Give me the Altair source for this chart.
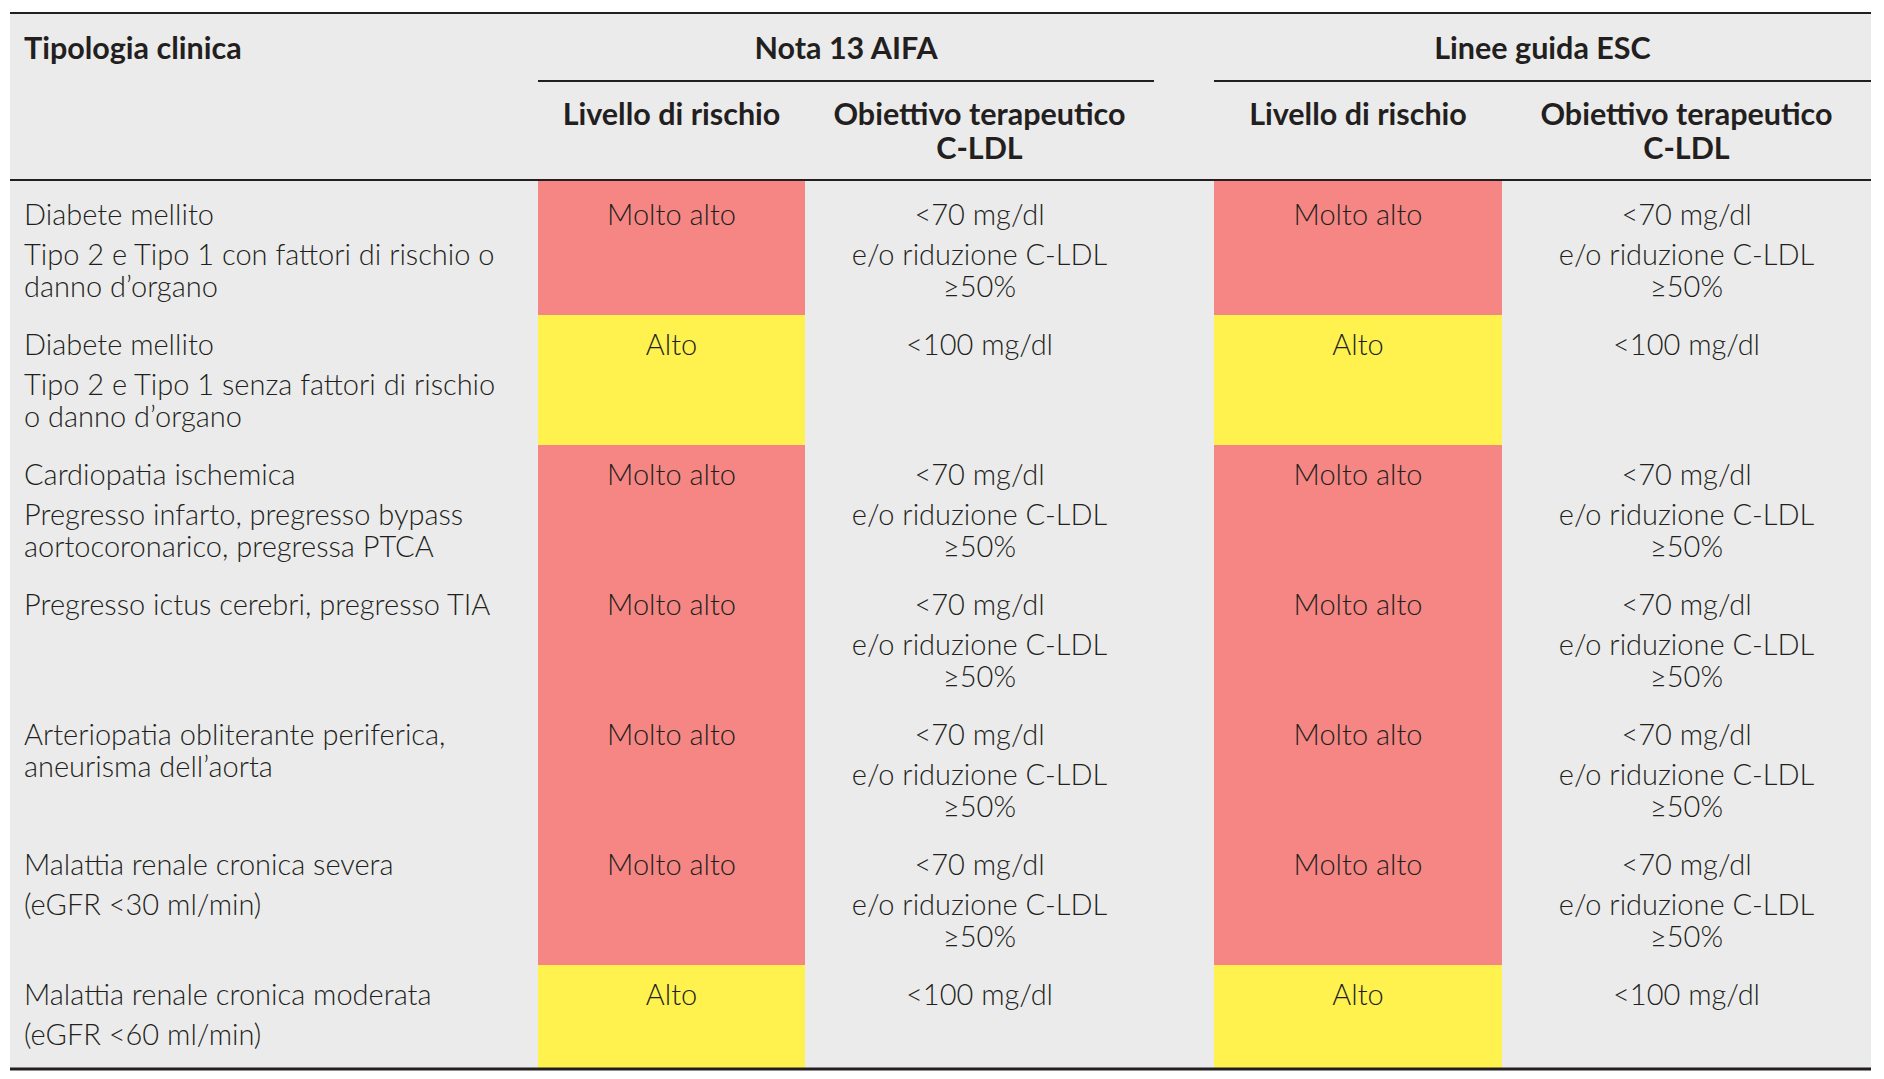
import altair as alt
import pandas as pd

# ---------------- content ----------------
HEAD_TOP = ["Tipologia clinica", "Nota 13 AIFA", "Linee guida ESC"]
HEAD_SUB = [["Livello di rischio"], ["Obiettivo terapeutico", "C-LDL"]]

TIPOLOGIA = [
    [["Diabete mellito"], ["Tipo 2 e Tipo 1 con fattori di rischio o", "danno d’organo"]],
    [["Diabete mellito"], ["Tipo 2 e Tipo 1 senza fattori di rischio", "o danno d’organo"]],
    [["Cardiopatia ischemica"], ["Pregresso infarto, pregresso bypass", "aortocoronarico, pregressa PTCA"]],
    [["Pregresso ictus cerebri, pregresso TIA"]],
    [["Arteriopatia obliterante periferica,", "aneurisma dell’aorta"]],
    [["Malattia renale cronica severa"], ["(eGFR <30 ml/min)"]],
    [["Malattia renale cronica moderata"], ["(eGFR <60 ml/min)"]],
]
RISCHIO_AIFA = ["Molto alto", "Alto", "Molto alto", "Molto alto", "Molto alto", "Molto alto", "Alto"]
RISCHIO_ESC = ["Molto alto", "Alto", "Molto alto", "Molto alto", "Molto alto", "Molto alto", "Alto"]
OBIETTIVO_AIFA = [
    [["<70 mg/dl"], ["e/o riduzione C-LDL", "≥50%"]],
    [["<100 mg/dl"]],
    [["<70 mg/dl"], ["e/o riduzione C-LDL", "≥50%"]],
    [["<70 mg/dl"], ["e/o riduzione C-LDL", "≥50%"]],
    [["<70 mg/dl"], ["e/o riduzione C-LDL", "≥50%"]],
    [["<70 mg/dl"], ["e/o riduzione C-LDL", "≥50%"]],
    [["<100 mg/dl"]],
]
OBIETTIVO_ESC = [
    [["<70 mg/dl"], ["e/o riduzione C-LDL", "≥50%"]],
    [["<100 mg/dl"]],
    [["<70 mg/dl"], ["e/o riduzione C-LDL", "≥50%"]],
    [["<70 mg/dl"], ["e/o riduzione C-LDL", "≥50%"]],
    [["<70 mg/dl"], ["e/o riduzione C-LDL", "≥50%"]],
    [["<70 mg/dl"], ["e/o riduzione C-LDL", "≥50%"]],
    [["<100 mg/dl"]],
]

RISK_COLORS = {"Molto alto": "#f58683", "Alto": "#fff24f"}
BG = "#ebebeb"
INK = "#231f20"
FONT = "Lato"
FS_BODY = 29
FS_HEAD = 30.5

# ---------------- layout (page geometry) ----------------
W, H = 1868, 1063
X0, X1 = 10, 1871
COLS = [(10, 538), (538, 805), (805, 1154), (1214, 1502), (1502, 1871)]
GROUPS = [(538, 1154), (1214, 1871)]
Y_TOP, Y_GROUP_RULE, Y_HEAD = 13, 81, 180
PAD_FIRST = 5
FIRST_OFF, PARA_GAP, WRAP_GAP = 40, 40, 31.5
HEAD_SUB_Y, HEAD_SUB_GAP = 125, 33.5


def n_lines(cell):
    return sum(len(p) for p in cell)


def cell_lines(cell, top):
    out = []
    y = top + FIRST_OFF
    first = True
    for para in cell:
        for i, line in enumerate(para):
            if not first:
                y += PARA_GAP if i == 0 else WRAP_GAP
            first = False
            out.append((line, y))
    return out


texts = []
cells = []

# header texts
texts.append(dict(x=24, y=59, t=HEAD_TOP[0], kind="head_left"))
for (gx0, gx1), label in zip(GROUPS, HEAD_TOP[1:]):
    texts.append(dict(x=(gx0 + gx1) / 2, y=59, t=label, kind="head_center"))
for ci in range(1, 5):
    cx = (COLS[ci][0] + COLS[ci][1]) / 2
    for li, line in enumerate(HEAD_SUB[(ci - 1) % 2]):
        texts.append(dict(x=cx, y=HEAD_SUB_Y + li * HEAD_SUB_GAP, t=line, kind="head_center"))

# body rows
top = Y_HEAD
for r in range(len(TIPOLOGIA)):
    row_cells = [TIPOLOGIA[r], [[RISCHIO_AIFA[r]]], OBIETTIVO_AIFA[r], [[RISCHIO_ESC[r]]], OBIETTIVO_ESC[r]]
    nmax = max(n_lines(c) for c in row_cells)
    content_top = top + (PAD_FIRST if r == 0 else 0)
    height = 52 + 26 * nmax
    bottom = content_top + height
    for ci, cell in enumerate(row_cells):
        x0c, x1c = COLS[ci]
        if ci == 0:
            for line, y in cell_lines(cell, content_top):
                texts.append(dict(x=24, y=y, t=line, kind="body_left"))
        else:
            cx = (x0c + x1c) / 2
            for line, y in cell_lines(cell, content_top):
                texts.append(dict(x=cx, y=y, t=line, kind="body_center"))
        if ci in (1, 3):
            risk = RISCHIO_AIFA[r] if ci == 1 else RISCHIO_ESC[r]
            cells.append(dict(x=x0c, x2=x1c, y=top, y2=bottom, c=RISK_COLORS[risk]))
    top = bottom
Y_BOTTOM = top

tdf = pd.DataFrame(texts)
cdf = pd.DataFrame(cells)
bgdf = pd.DataFrame([dict(x=X0, x2=X1, y=Y_TOP, y2=Y_BOTTOM)])
rules = [
    dict(x=X0, x2=X1, y=Y_TOP, sw=2),
    dict(x=X0, x2=X1, y=Y_HEAD, sw=2),
    dict(x=X0, x2=X1, y=Y_BOTTOM, sw=3),
]
for gx0, gx1 in GROUPS:
    rules.append(dict(x=gx0, x2=gx1, y=Y_GROUP_RULE, sw=1.8))
rdf = pd.DataFrame(rules)

xs = alt.Scale(domain=[8, 8 + W], nice=False, zero=False)
ys = alt.Scale(domain=[8, 8 + H], nice=False, zero=False, reverse=True)

bg = alt.Chart(bgdf).mark_rect(color=BG).encode(
    x=alt.X("x:Q", scale=xs, axis=None), x2="x2:Q",
    y=alt.Y("y:Q", scale=ys, axis=None), y2="y2:Q",
)
rects = alt.Chart(cdf).mark_rect().encode(
    x=alt.X("x:Q", scale=xs, axis=None), x2="x2:Q",
    y=alt.Y("y:Q", scale=ys, axis=None), y2="y2:Q",
    color=alt.Color("c:N", scale=None),
)
rl = alt.Chart(rdf).mark_rule(color=INK).encode(
    x=alt.X("x:Q", scale=xs, axis=None), x2="x2:Q",
    y=alt.Y("y:Q", scale=ys, axis=None),
    strokeWidth=alt.StrokeWidth("sw:Q", scale=None),
)


def text_layer(kind, align, weight, size):
    return alt.Chart(tdf).transform_filter(alt.datum.kind == kind).mark_text(
        align=align, baseline="alphabetic", font=FONT, fontSize=size,
        fontWeight=weight, color=INK,
    ).encode(
        x=alt.X("x:Q", scale=xs, axis=None),
        y=alt.Y("y:Q", scale=ys, axis=None),
        text="t:N",
    )


chart = alt.layer(
    bg, rects, rl,
    text_layer("head_left", "left", "bold", FS_HEAD),
    text_layer("head_center", "center", "bold", FS_HEAD),
    text_layer("body_left", "left", 300, FS_BODY),
    text_layer("body_center", "center", 300, FS_BODY),
).properties(
    width=W, height=H, autosize=alt.AutoSizeParams(type="none"), padding=0,
).configure_view(stroke=None)

chart.save("out.html", embed_options={"renderer": "svg", "actions": False})
